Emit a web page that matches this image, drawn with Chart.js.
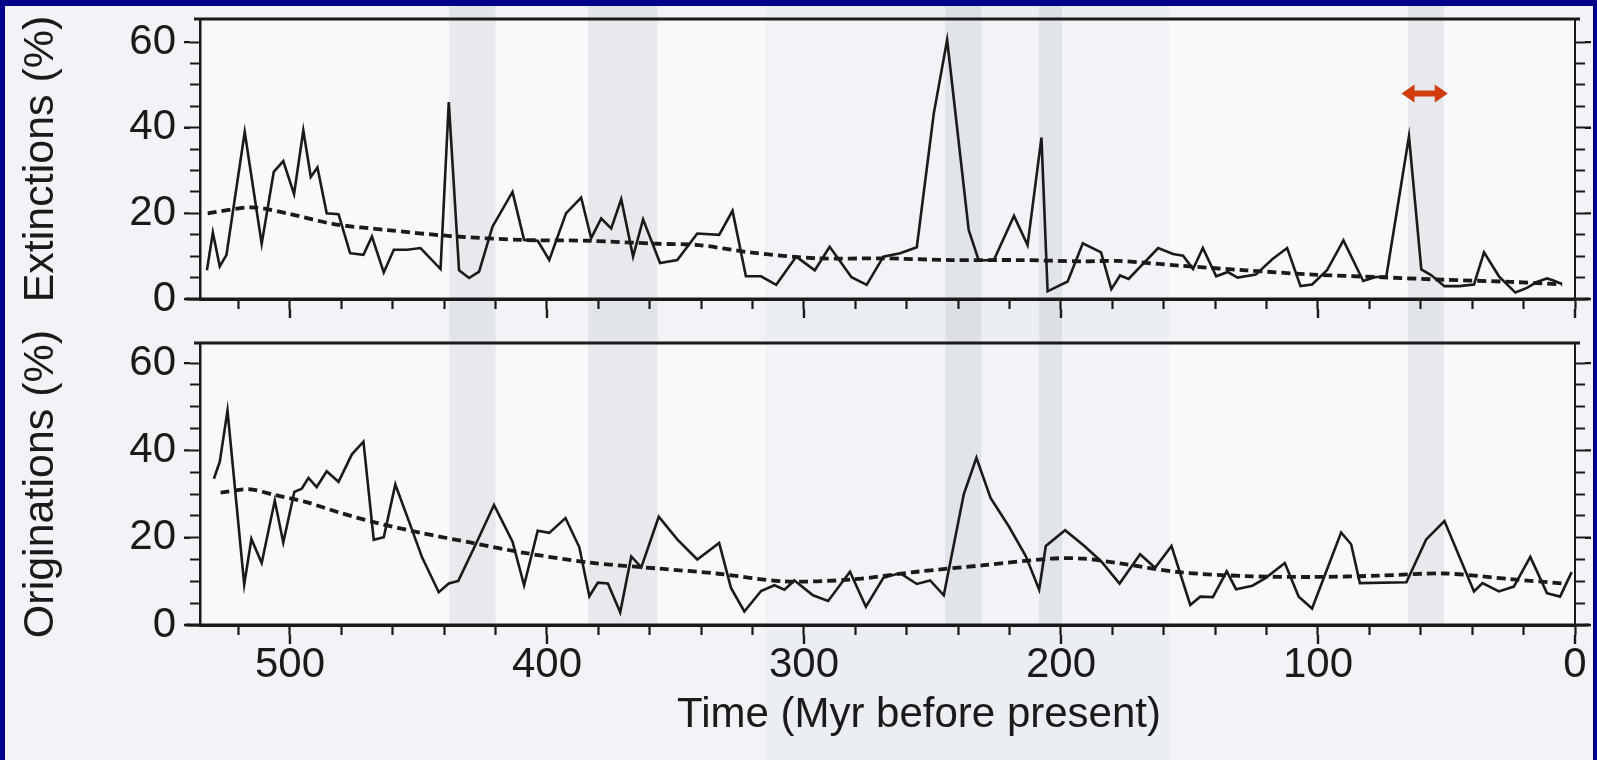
<!DOCTYPE html>
<html>
<head>
<meta charset="utf-8">
<title>Extinctions and originations</title>
<script src="https://cdn.jsdelivr.net/npm/chart.js@4.4.1/dist/chart.umd.min.js"></script>
<style>
  html, body { margin: 0; padding: 0; width: 1597px; height: 760px; overflow: hidden; background: #00008a; }
  #paper { position: absolute; left: 5px; top: 6px; width: 1588px; height: 754px; background: #f1f3f6; }
  #topBox { position: absolute; left: 0; top: 0; width: 1588px; height: 324px; }
  #bottomBox { position: absolute; left: 0; top: 324px; width: 1588px; height: 430px; }
</style>
</head>
<body>
<div id="paper">
  <div id="topBox"><canvas id="extChart"></canvas></div>
  <div id="bottomBox"><canvas id="origChart"></canvas></div>
</div>
<script>
// time in Myr before present, rates in %
const extTime = [532.3, 530, 527.3, 524.7, 517.6, 511, 506.3, 502.6, 498.4, 494.8, 491.9, 489.3, 485.7, 481.1,
  476.6, 471.4, 468.1, 463.5, 459.6, 454.4, 449.2, 441.4, 438.2, 434.2, 430.3, 426.4, 421.2, 413.4, 408.9,
  403.6, 399.1, 392.6, 386.7, 382.8, 378.9, 375, 371.1, 366.5, 362.6, 356, 349.3, 341.5, 333, 327.8, 322.6,
  316.7, 310.8, 303, 295.8, 290, 281.5, 275.6, 269.1, 262.6, 256.1, 249.5, 244.3, 235.9, 232, 226.1, 218.3,
  213, 207.6, 205.2, 197.4, 191.5, 184.4, 180.4, 177, 173.7, 162.2, 156.4, 152.5, 148.6, 144.8, 139.6, 135.1,
  131.3, 124.2, 117.8, 112, 106.8, 102.3, 96.5, 90.1, 82.4, 77.9, 73.4, 64.6, 59.8, 56, 50.8, 45, 39.3, 35.4,
  29.6, 23.2, 18.7, 14.8, 10.9, 8.4, 5.1];
const extRate = [6.7, 15.5, 7.6, 10.3, 39.0, 12.9, 29.7, 32.2, 24.5, 39.4, 28.5, 30.7, 20.0, 19.8,
  10.7, 10.3, 14.6, 6.2, 11.5, 11.5, 11.9, 7.0, 46.0, 6.7, 4.9, 6.4, 16.9, 25.0, 13.8,
  13.6, 9.1, 20.0, 23.7, 14.2, 18.8, 16.5, 23.3, 9.9, 18.6, 8.4, 9.1, 15.3, 15.0, 20.6, 5.3,
  5.3, 3.3, 9.9, 6.7, 12.2, 5.1, 3.3, 9.9, 10.7, 12.1, 43.3, 60.5, 16.1, 9.0, 9.1, 19.4,
  12.6, 37.7, 1.8, 4.1, 13.0, 10.9, 2.3, 5.5, 4.7, 11.9, 10.5, 10.1, 7.0, 11.9, 5.3, 6.3,
  5.0, 5.7, 9.3, 11.9, 3.0, 3.4, 6.7, 13.7, 4.2, 5.1, 5.3, 38.0, 6.9, 5.6, 3.0, 3.0, 3.4, 10.9,
  5.3, 1.5, 2.6, 4.0, 4.8, 4.3, 3.5];
const extTrendTime = [532, 515, 501, 483, 462, 437.5, 410, 384, 357, 341, 321, 295, 269, 243, 217, 191, 178,
  154, 128, 102, 76.6, 51, 25, 5];
const extTrendRate = [20.0, 21.4, 20.0, 17.5, 16.1, 14.7, 13.8, 13.6, 12.9, 12.6, 10.9, 9.5, 9.5, 9.1, 9.1, 8.8, 8.9,
  7.8, 6.7, 5.7, 5.1, 4.5, 4.0, 3.4];

const origTime = [529.6, 527.3, 524.3, 517.8, 515, 511, 505.9, 502.6, 498.3, 495.4, 492.8, 489.6, 485.7, 481.1,
  475.9, 471.4, 467.4, 463.5, 459, 453.8, 448.6, 442.1, 438.2, 434.5, 427.7, 420.6, 413.4, 408.9, 403.6,
  399.1, 392.8, 387.4, 383.5, 380.2, 376.3, 371.5, 367.2, 363.3, 356.5, 349.3, 341.5, 333, 328.4, 323.2,
  316.7, 311.5, 307.6, 303.7, 296.5, 290.6, 282.1, 275.9, 269.1, 262.6, 256.1, 250.9, 245.6, 237.8, 232.9,
  227.4, 220.2, 213.7, 208.5, 205.9, 198.4, 190.9, 184.4, 177.2, 169.2, 163.4, 157, 149.7, 145.8, 140.9,
  135.5, 131.9, 125.5, 120.3, 112.9, 107.5, 102.3, 91, 87.1, 83.7, 65.6, 57.9, 50.8, 39.3, 36, 29.6, 23.8,
  17.4, 10.9, 5.8, 1.3];
const origRate = [33.5, 37.4, 49.1, 9.3, 19.7, 14.2, 28.5, 18.9, 30.5, 31.2, 33.7, 31.6, 35.2, 32.8,
  39.1, 42.0, 19.5, 20.1, 32.2, 23.9, 15.5, 7.5, 9.5, 10.1, 18.5, 27.5, 19.1, 9.1, 21.6,
  21.1, 24.5, 17.8, 6.6, 9.7, 9.5, 2.9, 15.7, 13.2, 24.8, 19.6, 15.0, 18.8, 8.5, 3.1,
  7.8, 9.1, 8.1, 10.2, 6.8, 5.5, 12.2, 4.2, 10.8, 11.9, 9.4, 10.2, 6.8, 30.0, 38.3,
  29.1, 22.5, 15.8, 8.1, 18.1, 21.7, 18.1, 14.6, 9.5, 16.2, 13.1, 18.1, 4.6, 6.5, 6.4,
  12.3, 8.2, 9.0, 10.8, 14.2, 6.5, 3.8, 21.2, 18.5, 9.6, 9.8, 19.6, 23.8, 7.7, 9.6, 7.7, 8.8,
  15.6, 7.3, 6.5, 12.1];
const origTrendTime = [527, 516, 506, 494, 481, 467, 449, 429, 409.5, 383.5, 356, 334, 308, 282, 256, 230, 204,
  191, 177, 154, 128, 102, 76.6, 51, 25, 4.5];
const origTrendRate = [30.3, 31.1, 29.8, 28.2, 25.8, 23.5, 21.1, 18.8, 16.6, 14.3, 12.9, 11.8, 10.0, 10.4, 12.2, 13.7, 15.2,
  15.2, 14.1, 12.1, 11.2, 11.0, 11.3, 11.8, 10.5, 9.5];

// shaded mass-extinction intervals [older, younger]
const eventBands = [[438, 420], [384, 357], [245, 231], [208.5, 199.6], [65, 51]];
const scanPatch = [315, 158];
const arrowSpan = [67.5, 49.5];
const arrowLevel = 48;

const xTickLabels = [500, 400, 300, 200, 100, 0];
const yTickLabels = [0, 20, 40, 60];
const xTitle = 'Time (Myr before present)';

const FONT = "'Liberation Sans', Arial, Helvetica, sans-serif";
const INK = '#1a1a1a';

function pts(xs, ys) { return xs.map((t, i) => ({x: t, y: ys[i]})); }

const paperPlugin = {
  id: 'paper',
  beforeDraw(chart, args, opts) {
    const {ctx, chartArea: a, scales: {x}} = chart;
    const h = chart.height;
    ctx.save();
    ctx.fillStyle = '#f1f3f6';
    ctx.fillRect(0, 0, chart.width, h);
    ctx.fillStyle = '#f8f9fb';
    ctx.fillRect(a.left, a.top, a.right - a.left, a.bottom - a.top);
    const g0 = x.getPixelForValue(scanPatch[0]), g1 = x.getPixelForValue(scanPatch[1]);
    ctx.fillStyle = 'rgba(205,212,224,0.16)';
    ctx.fillRect(g0, 0, g1 - g0, h);
    ctx.fillStyle = 'rgba(150,156,168,0.17)';
    const bottom = opts.bandsToEdge ? h : a.bottom + 2;
    eventBands.forEach(([t0, t1]) => {
      const p0 = x.getPixelForValue(t0), p1 = x.getPixelForValue(t1);
      ctx.fillRect(p0, 0, p1 - p0, bottom);
    });
    ctx.restore();
  },
  afterDraw(chart, args, opts) {
    const {ctx, chartArea: a, scales: {x, y}} = chart;
    ctx.save();
    ctx.strokeStyle = INK;
    ctx.lineWidth = 3;
    ctx.beginPath();
    ctx.moveTo(a.left - 6, a.top); ctx.lineTo(a.right + 5, a.top);
    ctx.moveTo(a.left - 14, a.bottom); ctx.lineTo(a.right + 14, a.bottom);
    ctx.stroke();
    // longer marks for the labelled ticks
    ctx.lineWidth = 2.4;
    ctx.beginPath();
    x.ticks.forEach(t => {
      if (xTickLabels.includes(t.value)) {
        const px = x.getPixelForValue(t.value);
        ctx.moveTo(px, a.bottom + 10); ctx.lineTo(px, a.bottom + 19);
      }
    });
    y.ticks.forEach(t => {
      if (yTickLabels.includes(t.value)) {
        const py = y.getPixelForValue(t.value);
        ctx.moveTo(a.left - 10, py); ctx.lineTo(a.left - 16, py);
        ctx.moveTo(a.right + 10, py); ctx.lineTo(a.right + 16, py);
      }
    });
    ctx.stroke();
    if (opts.arrow) {
      const x0 = x.getPixelForValue(arrowSpan[0]), x1 = x.getPixelForValue(arrowSpan[1]);
      const yy = y.getPixelForValue(arrowLevel);
      const head = 13, half = 9, shaft = 3;
      ctx.fillStyle = '#cf3c0e';
      ctx.beginPath();
      ctx.moveTo(x0, yy);
      ctx.lineTo(x0 + head, yy - half);
      ctx.lineTo(x0 + head, yy - shaft);
      ctx.lineTo(x1 - head, yy - shaft);
      ctx.lineTo(x1 - head, yy - half);
      ctx.lineTo(x1, yy);
      ctx.lineTo(x1 - head, yy + half);
      ctx.lineTo(x1 - head, yy + shaft);
      ctx.lineTo(x0 + head, yy + shaft);
      ctx.lineTo(x0 + head, yy + half);
      ctx.closePath();
      ctx.fill();
    }
    if (opts.xTitle) {
      ctx.fillStyle = INK;
      ctx.font = '42px ' + FONT;
      ctx.textAlign = 'center';
      ctx.textBaseline = 'middle';
      ctx.fillText(xTitle, 914, 385);
    }
    ctx.restore();
  }
};

function makeChart(id, cfg) {
  const showX = cfg.showXLabels;
  return new Chart(document.getElementById(id), {
    type: 'line',
    data: {
      datasets: [
        {
          label: cfg.label,
          data: pts(cfg.time, cfg.rate),
          borderColor: INK,
          borderWidth: 2.6,
          borderJoinStyle: 'miter',
          pointRadius: 0,
          tension: 0,
          order: 0
        },
        {
          label: cfg.label + ' trend',
          data: pts(cfg.trendTime, cfg.trendRate),
          borderColor: INK,
          borderWidth: 3.8,
          borderDash: [9, 5],
          borderCapStyle: 'butt',
          pointRadius: 0,
          tension: 0.3,
          order: 1
        }
      ]
    },
    options: {
      responsive: true,
      maintainAspectRatio: false,
      animation: false,
      layout: { padding: { top: 13, left: 0, right: 0, bottom: 0 } },
      plugins: {
        legend: { display: false },
        tooltip: { enabled: false },
        paper: { arrow: cfg.arrow, xTitle: showX, bandsToEdge: !showX }
      },
      scales: {
        x: {
          type: 'linear',
          reverse: true,
          min: 0,
          max: 535,
          afterFit: s => { s.height = cfg.xHeight; s.paddingLeft = 0; s.paddingRight = 0; },
          border: { display: true, width: 3, color: INK },
          grid: { drawOnChartArea: false, drawTicks: true, tickLength: 10, tickColor: INK, tickWidth: 2.2 },
          ticks: {
            display: showX,
            stepSize: 20,
            includeBounds: false,
            autoSkip: false,
            maxRotation: 0,
            minRotation: 0,
            padding: 5,
            color: INK,
            font: { family: FONT, size: 42 },
            callback: v => xTickLabels.includes(v) ? String(v) : ''
          }
        },
        y: {
          position: 'left',
          min: 0,
          max: cfg.yMax,
          afterBuildTicks: s => { s.ticks = s.ticks.filter(t => t.value <= 60); },
          afterFit: s => { s.width = 195; s.paddingTop = 0; s.paddingBottom = 0; },
          border: { display: true, width: 2.5, color: INK },
          grid: { drawOnChartArea: false, tickLength: 10, tickColor: INK, tickWidth: 2 },
          ticks: {
            stepSize: 5,
            includeBounds: false,
            autoSkip: false,
            padding: 14,
            color: INK,
            font: { family: FONT, size: 42 },
            callback: v => yTickLabels.includes(v) ? String(v) : ''
          },
          title: {
            display: true,
            text: cfg.label,
            color: INK,
            font: { family: FONT, size: 43 },
            padding: { top: 10, bottom: 0 }
          }
        },
        yr: {
          position: 'right',
          min: 0,
          max: cfg.yMax,
          afterBuildTicks: s => { s.ticks = s.ticks.filter(t => t.value <= 60); },
          afterFit: s => { s.width = 18; s.paddingTop = 0; s.paddingBottom = 0; },
          border: { display: true, width: 2, color: INK },
          grid: { drawOnChartArea: false, tickLength: 10, tickColor: INK, tickWidth: 2 },
          ticks: { display: false, stepSize: 5, includeBounds: false, autoSkip: false }
        }
      }
    },
    plugins: [paperPlugin]
  });
}

makeChart('extChart', {
  label: 'Extinctions (%)',
  time: extTime, rate: extRate,
  trendTime: extTrendTime, trendRate: extTrendRate,
  yMax: 65.4, xHeight: 31, showXLabels: false, arrow: true
});

makeChart('origChart', {
  label: 'Originations (%)',
  time: origTime, rate: origRate,
  trendTime: origTrendTime, trendRate: origTrendRate,
  yMax: 64.6, xHeight: 135, showXLabels: true, arrow: false
});
</script>
</body>
</html>
